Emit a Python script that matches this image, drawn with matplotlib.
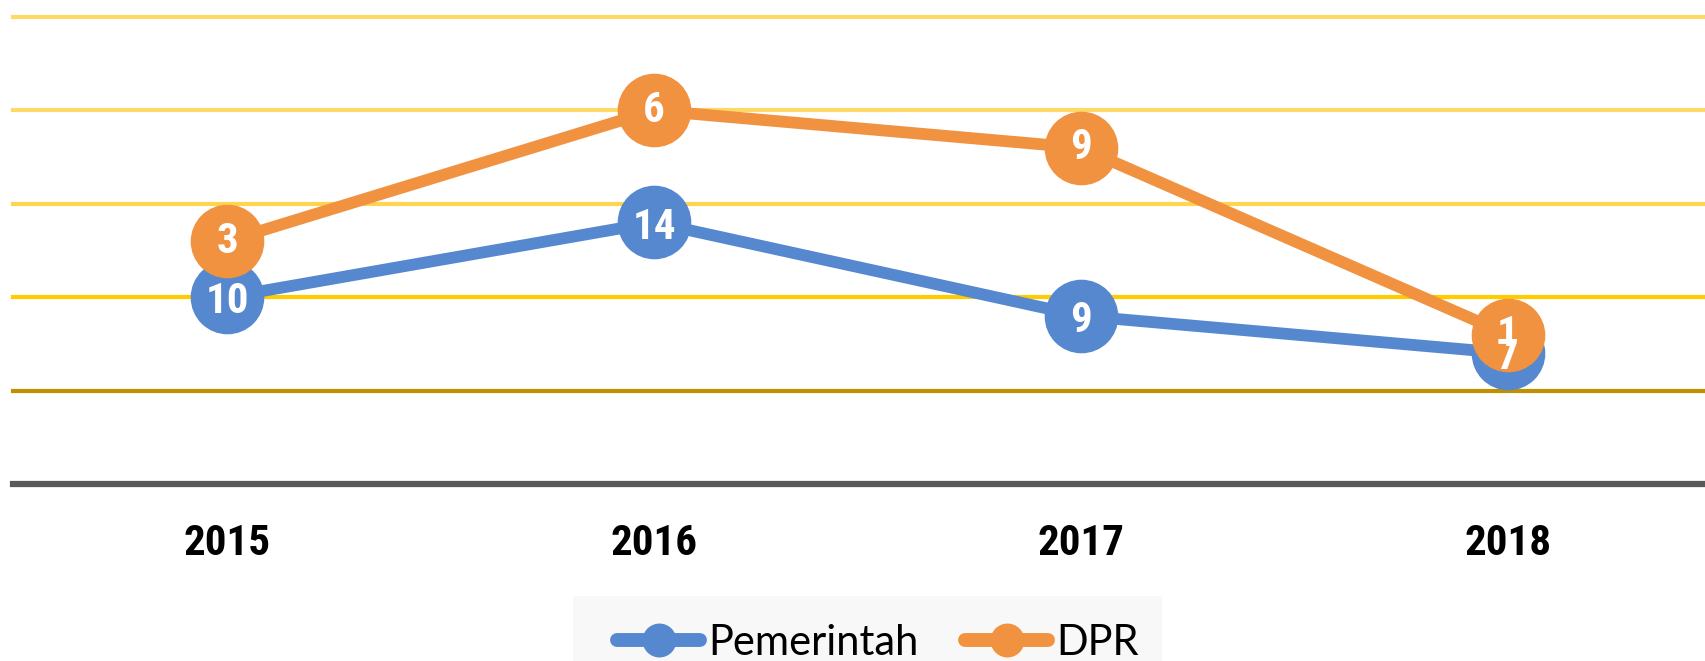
import matplotlib
matplotlib.use("Agg")
import matplotlib.pyplot as plt
from matplotlib.patches import Rectangle
from matplotlib import font_manager
import numpy as np

years = ["2015", "2016", "2017", "2018"]
pemerintah = [10, 14, 9, 7]
dpr = [3, 6, 9, 1]
grid_levels = [5, 10, 15, 20, 25]
grid_colors = ["#BF9000", "#FFCC00", "#FFD54F", "#FFD966", "#FFD966"]

blue = "#5588CF"
orange = "#F09240"

# pick a condensed bold font if available
fl = font_manager.fontManager.ttflist
names = set(f.name for f in fl)
narrow_kw = None
for cand in ["Liberation Sans Narrow", "Roboto Condensed", "Open Sans Condensed", "Arial Narrow"]:
    if cand in names:
        narrow_kw = dict(family=[cand, "DejaVu Sans"], fontweight="bold")
        break
if narrow_kw is None:
    cond = [f for f in fl if f.name == "DejaVu Sans" and str(f.stretch) in ("condensed", "semi-condensed", "600", "300")
            or ("Condensed" in f.fname and "DejaVu" in f.fname)]
    if cond:
        narrow_kw = dict(family=["DejaVu Sans"], fontweight="bold", fontstretch="condensed")
    else:
        narrow_kw = dict(family=["Liberation Sans", "DejaVu Sans"], fontweight="bold")

W, H = 1706, 661
fig = plt.figure(figsize=(W / 100, H / 100), dpi=100)
left = 13.5 / W
step = 427 / W
ax = fig.add_axes([left, 1 - 484 / H, step * 4, (484 - 17) / H])

x = np.arange(len(years))
pem = np.array(pemerintah)
dpr_cum = pem + np.array(dpr)

for lvl, c in zip(grid_levels, grid_colors):
    ax.axhline(lvl, color=c, lw=3, zorder=1, clip_on=False)
ax.axhline(0, color="#595959", lw=4.5, zorder=1, clip_on=False)

ax.plot(x, pem, color=blue, lw=8.5, marker="o", ms=52, mfc=blue, mec=blue,
        solid_capstyle="round", zorder=3, label="Pemerintah")
ax.plot(x, dpr_cum, color=orange, lw=8.5, marker="o", ms=52, mfc=orange, mec=orange,
        solid_capstyle="round", zorder=4, label="DPR")

for xi, yi, v in zip(x, pem, pemerintah):
    ax.text(xi, yi - 0.25, str(v), color="white", fontsize=31,
            ha="center", va="center", zorder=6, **narrow_kw)
for xi, yi, v in zip(x, dpr_cum, dpr):
    ax.text(xi, yi, str(v), color="white", fontsize=31,
            ha="center", va="center", zorder=7, **narrow_kw)

ax.set_xlim(-0.5, 3.5)
ax.set_ylim(0, 25)
ax.set_xticks(x)
ax.set_xticklabels(years, fontsize=31, **narrow_kw)
ax.tick_params(axis="x", length=0, pad=28)
ax.set_yticks([])
for s in ax.spines.values():
    s.set_visible(False)

# legend background
fig.patches.append(Rectangle((573 / W, 0), (1162 - 573) / W, (661 - 596) / H,
                             transform=fig.transFigure, facecolor="#F8F8F8",
                             edgecolor="none", zorder=0))
handles, labels = ax.get_legend_handles_labels()
leg = fig.legend(handles, labels, loc="center", bbox_to_anchor=(878 / W, 1 - 643 / H),
                 ncol=2, frameon=False, prop={"family": ["Lato", "DejaVu Sans"], "size": 30},
                 handlelength=2.0, handletextpad=0.2, columnspacing=1.1, markerscale=0.45)
for lh in leg.legend_handles:
    lh.set_linewidth(10)

fig.savefig("out.png", dpi=100)
